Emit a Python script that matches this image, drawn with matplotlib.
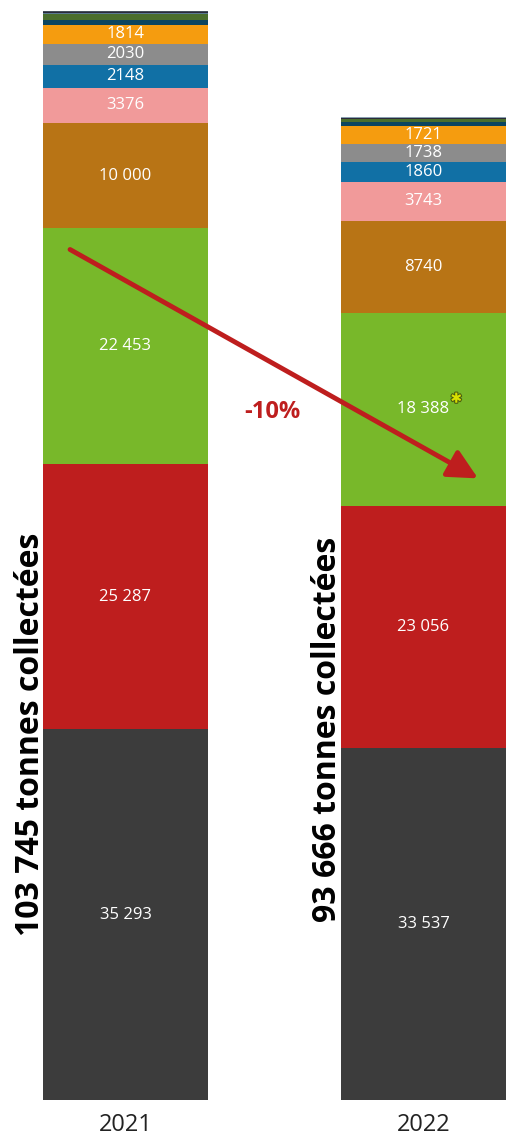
import matplotlib.pyplot as plt
import matplotlib.patheffects as pe
import numpy as np

years = ['2021', '2022']
# from bottom to top
segments = ['gris fonce', 'rouge', 'vert', 'marron', 'rose', 'bleu', 'gris', 'orange',
            'bleu nuit', 'olive', 'ardoise', 'noir', 'clair', 'gris 2']
values_2021 = [35293, 25287, 22453, 10000, 3376, 2148, 2030, 1814, 450, 550, 100, 80, 80, 84]
values_2022 = [33537, 23056, 18388, 8740, 3743, 1860, 1738, 1721, 400, 200, 90, 70, 60, 63]
labels_2021 = ['35 293', '25 287', '22 453', '10 000', '3376', '2148', '2030', '1814']
labels_2022 = ['33 537', '23 056', '18 388', '8740', '3743', '1860', '1738', '1721']
totals = [103745, 93666]
colors = ['#3c3c3c', '#be1e1e', '#78b82a', '#b87415', '#f19a9a', '#1170a5', '#8c8c8c', '#f59c0f',
          '#0b4560', '#4a6e2c', '#5a7a90', '#2a2a3a', '#8aa0b0', '#44505a']

fig = plt.figure(figsize=(5.12, 11.4), dpi=100)
ax = fig.add_axes([0, 40 / 1140, 1, 1100 / 1140])

x = np.arange(len(years))
width = 0.554
data = np.array([values_2021, values_2022])
bottoms = np.zeros(len(years))
for i, c in enumerate(colors):
    ax.bar(x, data[:, i], width, bottom=bottoms, color=c, linewidth=0)
    bottoms += data[:, i]

for j, labs in enumerate([labels_2021, labels_2022]):
    base = 0
    for i, lab in enumerate(labs):
        v = data[j, i]
        ax.text(x[j], base + v / 2, lab, ha='center', va='center', color='white',
                fontsize=12, family='Open Sans')
        base += v

ax.set_xlim(-0.421, 1.297)
ax.set_ylim(0, 104762)
ax.axis('off')

# year labels
for j, y in enumerate(years):
    ax.text(x[j], -1200, y, ha='center', va='top', fontsize=17, color='#222222', family='Open Sans')

# totals, vertical
ax.text(-0.32, 34800, '{:,} tonnes collectées'.format(totals[0]).replace(',', ' '),
        rotation=90, ha='center', va='center', fontsize=23, fontweight='bold', family='Open Sans')
ax.text(0.678, 35300, '{:,} tonnes collectées'.format(totals[1]).replace(',', ' '),
        rotation=90, ha='center', va='center', fontsize=23, fontweight='bold', family='Open Sans')

# asterisk on 2022 green segment
g_mid = data[1, 0] + data[1, 1] + data[1, 2] / 2
ax.text(x[1] + 0.11, g_mid + 1000, '✱', ha='center', va='center', fontsize=10, color='#d8e000',
        family='DejaVu Sans', path_effects=[pe.withStroke(linewidth=1.5, foreground='#4a5a10')])

# arrow and change
ax.annotate('', xy=(1.183, 59200), xytext=(-0.186, 81000),
            arrowprops=dict(arrowstyle='-|>,head_length=1.8,head_width=0.9', color='#be1e1e',
                            lw=3.5, shrinkA=0, shrinkB=0))
change = (totals[1] - totals[0]) / totals[0] * 100
ax.text(0.493, 65500, '{:.0f}%'.format(change), ha='center', va='center', fontsize=17,
        fontweight='bold', color='#be1e1e', family='Open Sans')

fig.savefig('out.png', dpi=100)
